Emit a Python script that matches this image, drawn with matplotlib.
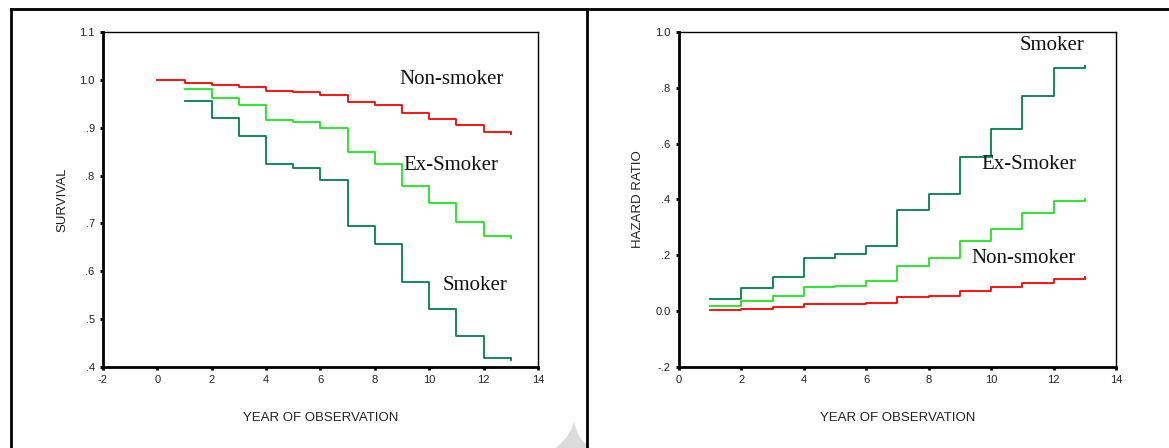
import matplotlib
matplotlib.use("Agg")
import matplotlib.pyplot as plt
from matplotlib.path import Path
from matplotlib.lines import Line2D
from matplotlib.patches import Polygon

# Kaplan-Meier survival by smoking status (value holds from the given year to the next)
surv_years_non = [0, 1, 2, 3, 4, 5, 6, 7, 8, 9, 10, 11, 12]
surv_non = [1.000, 0.994, 0.990, 0.985, 0.976, 0.974, 0.969, 0.953, 0.947, 0.930, 0.918, 0.905, 0.892]
surv_years = [1, 2, 3, 4, 5, 6, 7, 8, 9, 10, 11, 12]
surv_ex = [0.981, 0.963, 0.947, 0.916, 0.911, 0.899, 0.849, 0.825, 0.779, 0.743, 0.704, 0.674]
surv_smoker = [0.955, 0.920, 0.883, 0.825, 0.816, 0.791, 0.695, 0.657, 0.578, 0.522, 0.464, 0.419]

# cumulative hazard by smoking status
haz_years = [1, 2, 3, 4, 5, 6, 7, 8, 9, 10, 11, 12]
haz_smoker = [0.044, 0.084, 0.124, 0.192, 0.204, 0.235, 0.364, 0.420, 0.552, 0.651, 0.770, 0.870]
haz_ex = [0.020, 0.035, 0.056, 0.088, 0.091, 0.108, 0.163, 0.192, 0.253, 0.296, 0.352, 0.396]
haz_non = [0.003, 0.009, 0.016, 0.024, 0.024, 0.028, 0.050, 0.056, 0.072, 0.085, 0.100, 0.116]

last_year = 13

surv_ticks = [0.4, 0.5, 0.6, 0.7, 0.8, 0.9, 1.0, 1.1]
surv_ticklabels = [".4", ".5", ".6", ".7", ".8", ".9", "1.0", "1.1"]
haz_ticks = [-0.2, 0.0, 0.2, 0.4, 0.6, 0.8, 1.0]
haz_ticklabels = ["-.2", "0.0", ".2", ".4", ".6", ".8", "1.0"]

RED = "#ff0000"
LIGHT_GREEN = "#1ee61e"
DARK_GREEN = "#00804a"

plt.rcParams["font.family"] = ["Liberation Sans", "DejaVu Sans"]
plt.rcParams["axes.unicode_minus"] = False

# small end-of-curve tick, drawn up or down from the last point
tick_up = Path([(0, 0), (0, 1)])
tick_down = Path([(0, 0), (0, -1)])


def draw_step(ax, years, values, color, end_tick):
    xs = list(years) + [last_year]
    ys = list(values) + [values[-1]]
    ax.step(xs, ys, where="post", color=color, lw=1.3)
    ax.plot([xs[-1]], [ys[-1]], marker=end_tick, color=color, ms=5, mew=1.3)


def style_axes(ax, xlim, ylim, yticks, yticklabels, ylabel):
    ax.set_xlim(*xlim)
    ax.set_ylim(*ylim)
    ax.set_xticks(range(xlim[0], xlim[1] + 1, 2))
    ax.set_yticks(yticks)
    ax.set_yticklabels(yticklabels)
    ax.tick_params(direction="out", length=2, width=2, labelsize=8, pad=4,
                   colors="black", labelcolor="#222222")
    for side in ("left", "bottom"):
        ax.spines[side].set_linewidth(2)
    for side in ("top", "right"):
        ax.spines[side].set_linewidth(1)
    ax.set_xlabel("YEAR OF OBSERVATION", fontsize=9.5, labelpad=19, color="#222222")
    ax.set_ylabel(ylabel, fontsize=9.5, labelpad=8, color="#222222")


fig = plt.figure(figsize=(11.69, 4.48), dpi=100)

ax1 = fig.add_axes([0.0881, 0.1808, 0.3721, 0.7478])
draw_step(ax1, surv_years_non, surv_non, RED, tick_down)
draw_step(ax1, surv_years, surv_ex, LIGHT_GREEN, tick_down)
draw_step(ax1, surv_years, surv_smoker, DARK_GREEN, tick_down)
style_axes(ax1, (-2, 14), (0.4, 1.1), surv_ticks, surv_ticklabels, "SURVIVAL")
serif = dict(family=["Liberation Serif", "DejaVu Serif"], fontsize=15, va="center", color="#111111")
ax1.text(8.92, 1.000, "Non-smoker", **serif)
ax1.text(9.05, 0.822, "Ex-Smoker", **serif)
ax1.text(10.5, 0.571, "Smoker", **serif)

ax2 = fig.add_axes([0.5808, 0.1808, 0.3738, 0.7478])
draw_step(ax2, haz_years, haz_smoker, DARK_GREEN, tick_up)
draw_step(ax2, haz_years, haz_ex, LIGHT_GREEN, tick_up)
draw_step(ax2, haz_years, haz_non, RED, tick_up)
style_axes(ax2, (0, 14), (-0.2, 1.0), haz_ticks, haz_ticklabels, "HAZARD RATIO")
ax2.text(10.93, 0.953, "Smoker", **serif)
ax2.text(9.68, 0.524, "Ex-Smoker", **serif)
ax2.text(9.36, 0.190, "Non-smoker", **serif)

# page frame around the two panels
W, H = 1169, 448
frame = dict(transform=fig.transFigure, color="black", lw=2)
fig.add_artist(Line2D([11 / W, 1.0], [1 - 9 / H, 1 - 9 / H], **frame))
fig.add_artist(Line2D([11 / W, 11 / W], [0, 1 - 9 / H], **frame))
fig.add_artist(Line2D([587 / W, 587 / W], [0, 1 - 9 / H], **frame))

# faint grey spike at the foot of the page
spike = [(556, 448), (566, 438), (571, 430), (574, 422), (577, 432), (582, 440), (590, 448)]
fig.add_artist(Polygon([(x / W, 1 - y / H) for x, y in spike], closed=True,
                       transform=fig.transFigure, facecolor="#dcdcdc", edgecolor="none", zorder=0))

fig.savefig("out.png", dpi=100)
